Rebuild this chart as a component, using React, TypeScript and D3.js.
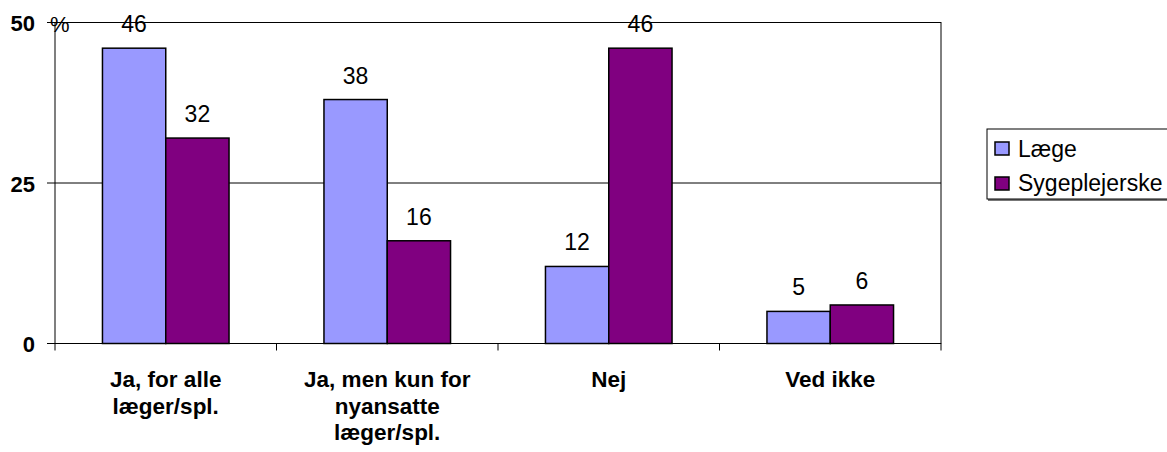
import React from "react";
import * as d3 from "d3";

const categories = [
  ["Ja, for alle", "læger/spl."],
  ["Ja, men kun for", "nyansatte", "læger/spl."],
  ["Nej"],
  ["Ved ikke"],
];
const seriesNames = ["Læge", "Sygeplejerske"];
const laege = [46, 38, 12, 5];
const sygeplejerske = [32, 16, 46, 6];
const yTicks = [0, 25, 50];
const colors = ["#9999FF", "#800080"];

const W = 1167;
const H = 452;
const plot = { left: 55, right: 941, top: 22.5, bottom: 343.5 };
const font = "Arial, 'Liberation Sans', Helvetica, sans-serif";

export default function App() {
  const x = d3
    .scaleBand<number>()
    .domain(d3.range(categories.length))
    .range([plot.left, plot.right]);
  const y = d3.scaleLinear().domain([0, 50]).range([plot.bottom, plot.top]);
  const step = x.step();
  const barW = step / 3.5;
  const series = [laege, sygeplejerske];

  return (
    <svg
      width={W}
      height={H}
      style={{ position: "absolute", left: 0, top: 0, display: "block", background: "#fff" }}
      fontFamily={font}
    >
      {/* plot frame and gridlines */}
      <rect
        x={plot.left}
        y={plot.top}
        width={plot.right - plot.left}
        height={plot.bottom - plot.top}
        fill="none"
        stroke="#000"
        strokeWidth={1}
      />
      {yTicks.map((t) => (
        <g key={t}>
          <line x1={plot.left} x2={plot.right} y1={y(t)} y2={y(t)} stroke="#000" strokeWidth={1} />
          <line x1={plot.left - 8} x2={plot.left} y1={y(t)} y2={y(t)} stroke="#000" strokeWidth={1} />
          <text
            x={35}
            y={y(t) + 1}
            dy="0.36em"
            textAnchor="end"
            fontSize={22}
            fontWeight="bold"
          >
            {t}
          </text>
        </g>
      ))}
      <text x={50} y={32} fontSize={22}>
        %
      </text>

      {/* category ticks */}
      {d3.range(categories.length + 1).map((i) => {
        const xx = plot.left + i * step;
        return (
          <line key={i} x1={xx} x2={xx} y1={plot.bottom} y2={plot.bottom + 7} stroke="#000" />
        );
      })}

      {/* bars with value labels */}
      {series.map((vals, s) =>
        vals.map((v, i) => {
          const bx = (x(i) as number) + step / 2 - barW + s * barW;
          return (
            <g key={`${s}-${i}`}>
              <rect
                x={bx}
                y={y(v)}
                width={barW}
                height={y(0) - y(v)}
                fill={colors[s]}
                stroke="#000"
                strokeWidth={1.5}
              />
              <text x={bx + barW / 2} y={y(v) - 16} textAnchor="middle" fontSize={23}>
                {v}
              </text>
            </g>
          );
        })
      )}

      {/* category labels */}
      {categories.map((lines, i) => (
        <text
          key={i}
          x={(x(i) as number) + step / 2}
          y={387}
          textAnchor="middle"
          fontSize={22.5}
          fontWeight="bold"
        >
          {lines.map((l, j) => (
            <tspan key={j} x={(x(i) as number) + step / 2} dy={j === 0 ? 0 : 26.5}>
              {l}
            </tspan>
          ))}
        </text>
      ))}

      {/* legend */}
      <rect x={988} y={130} width={200} height={71} fill="#777" />
      <rect x={987} y={129} width={200} height={70} fill="#fff" stroke="#000" strokeWidth={1} />
      {seriesNames.map((n, i) => (
        <g key={n}>
          <rect
            x={995}
            y={142 + i * 35}
            width={14}
            height={13}
            fill={colors[i]}
            stroke="#000"
            strokeWidth={1.5}
          />
          <text x={1018} y={157 + i * 34} fontSize={23}>
            {n}
          </text>
        </g>
      ))}
    </svg>
  );
}
